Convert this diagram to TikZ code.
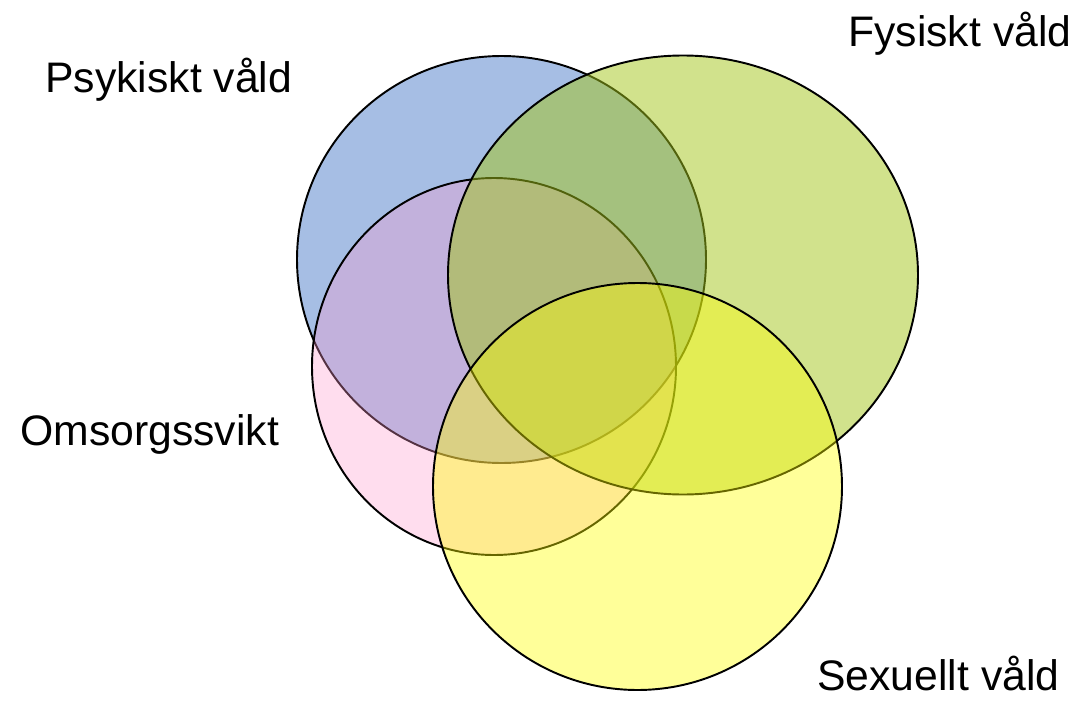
\documentclass[tikz,border=0pt]{standalone}
\usepackage{fontspec}
\setmainfont{Liberation Sans}
\definecolor{psykblue}{HTML}{4D7DC9}
\definecolor{omsorgpink}{HTML}{FF99CC}
\definecolor{fysgreen}{HTML}{A3C51A}
\definecolor{sexyellow}{HTML}{FFFF00}
\tikzset{
  venn/.style={draw=black, line width=1.1pt},
  vennlabel/.style={inner sep=0pt, anchor=base west, font=\fontsize{24.3}{28}\selectfont}
}

\begin{document}
\begin{tikzpicture}[x=0.02cm,y=0.02cm]
  %%%%% START %%%%%
  \def\xps{501.5}  \def\yps{-259.5}
  \def\xfy{683}    \def\yfy{-275}
  \def\xom{494}    \def\yom{-366.5}
  \def\xsx{637.5}  \def\ysx{-486.5}

  \useasboundingbox (0,0) rectangle (1076,-703);

  \draw[venn, fill=psykblue, fill opacity=0.5] (\xps,\yps) ellipse (204.5 and 203.5);
  \draw[venn, fill=omsorgpink, fill opacity=0.33] (\xom,\yom) ellipse (182 and 188.5);
  \draw[venn, fill=fysgreen, fill opacity=0.5] (\xfy,\yfy) ellipse (235 and 219.5);
  \draw[venn, fill=sexyellow, fill opacity=0.4] (\xsx,\ysx) ellipse (204.5 and 203.5);

  \node[vennlabel] (psyk) at (45,-92) {Psykiskt våld};
  \node[vennlabel] (fys) at (848,-47) {Fysiskt våld};
  \node[vennlabel] (omsorg) at (20,-445) {Omsorgssvikt};
  \node[vennlabel] (sex) at (817,-690) {Sexuellt våld};
  %%%%% END %%%%%
\end{tikzpicture}
\end{document}
